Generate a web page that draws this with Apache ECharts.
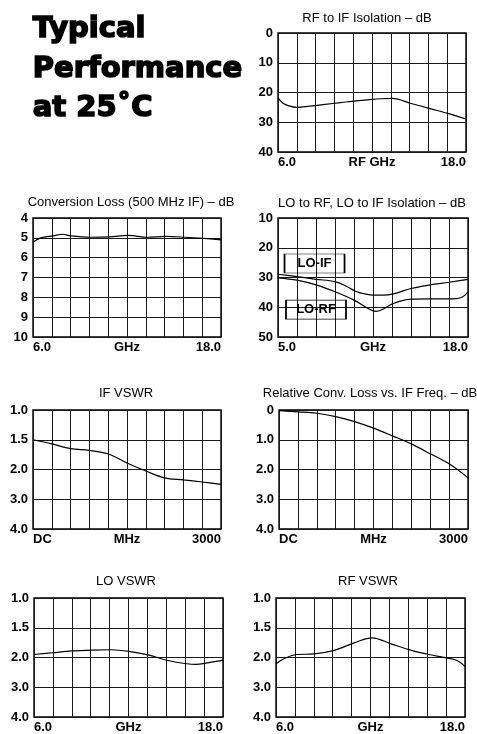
<!DOCTYPE html>
<html><head><meta charset="utf-8">
<script src="https://cdn.jsdelivr.net/npm/echarts@6/dist/echarts.min.js"></script>
<style>html,body{margin:0;padding:0;background:#fff}#c{width:477px;height:734px}</style>
</head><body><div id="c"></div>
<script>
// ---------- data ----------
// RF to IF isolation (dB) vs RF GHz
const rfIfGHz = [6.0, 6.3, 6.7, 7.2, 8.0, 9.0, 10.0, 11.0, 12.0, 12.6, 13.3, 14.5, 15.7, 16.9, 18.0];
const rfIfDb  = [21.8, 23.5, 24.5, 25.0, 24.6, 24.0, 23.4, 22.8, 22.3, 22.1, 22.0, 23.7, 25.4, 27.1, 28.9];
// Conversion loss (dB) vs GHz
const convGHz = [6.0, 6.5, 7.3, 7.9, 8.4, 9.7, 10.9, 12.1, 13.3, 14.5, 15.7, 16.9, 18.0];
const convDb  = [5.22, 5.0, 4.9, 4.82, 4.9, 4.97, 4.95, 4.88, 4.97, 4.93, 4.97, 5.03, 5.1];
// LO to IF isolation
const loIfGHz = [5.0, 6.3, 7.6, 8.9, 9.7, 10.3, 11.0, 11.6, 12.2, 12.9, 14.1, 15.4, 16.7, 18.0];
const loIfDb  = [28.9, 29.7, 30.6, 31.4, 33.0, 34.6, 35.6, 35.9, 35.9, 35.5, 33.7, 32.5, 31.6, 30.6];
// LO to RF isolation
const loRfGHz = [5.0, 6.3, 7.6, 8.9, 10.2, 11.2, 11.7, 12.2, 12.9, 14.1, 15.4, 16.7, 17.5, 18.0];
const loRfDb  = [30.1, 30.9, 32.5, 34.8, 37.6, 40.5, 41.4, 40.6, 38.7, 37.3, 37.2, 37.2, 36.8, 34.8];
// IF VSWR vs MHz
const ifMHz   = [0, 300, 600, 900, 1200, 1500, 1800, 2100, 2400, 2700, 3000];
const ifVswr  = [1.5, 1.57, 1.65, 1.68, 1.74, 1.89, 2.05, 2.28, 2.35, 2.42, 2.5];
// Relative conversion loss vs IF MHz
const relMHz  = [0, 300, 600, 900, 1200, 1500, 1800, 2100, 2400, 2700, 3000];
const relDb   = [0.02, 0.06, 0.11, 0.22, 0.39, 0.61, 0.87, 1.14, 1.47, 1.81, 2.28];
// LO VSWR vs GHz
const loVGHz  = [6.0, 7.2, 8.4, 9.7, 10.9, 12.1, 13.3, 14.5, 15.7, 16.3, 16.9, 18.0];
const loVswr  = [1.95, 1.92, 1.89, 1.875, 1.87, 1.9, 1.96, 2.1, 2.21, 2.23, 2.19, 2.09];
// RF VSWR vs GHz
const rfVGHz  = [6.0, 6.5, 7.3, 8.4, 9.7, 11.0, 12.1, 13.3, 14.6, 15.7, 16.9, 17.5, 18.0];
const rfVswr  = [2.21, 2.04, 1.95, 1.94, 1.88, 1.75, 1.67, 1.77, 1.88, 1.95, 2.02, 2.1, 2.3];

// tick labels
const vswrTicks = [1.0, 1.5, 2.0, 3.0, 4.0];
const relTicks  = ['0', '1.0', '2.0', '3.0', '4.0'];
// annotation anchors (data units) in LO isolation chart
const loNotes = [{text: 'LO-IF', ghz: 7.5, db: 25.3}, {text: 'LO-RF', ghz: 7.6, db: 40.8}];

// ---------- helpers ----------
function vswrToAxis(v) {
  for (let i = 0; i < vswrTicks.length - 1; i++) {
    if (v <= vswrTicks[i + 1]) return i + (v - vswrTicks[i]) / (vswrTicks[i + 1] - vswrTicks[i]);
  }
  return vswrTicks.length - 1;
}
const zip = (xs, ys, f) => xs.map((x, i) => [x, f ? f(ys[i]) : ys[i]]);

const FONT = '"Liberation Sans", Arial, sans-serif';

const charts = [
  {title: 'RF to IF Isolation – dB', tx: 367, ty: 18, box: [278, 33, 188, 119],
   xMin: 6, xMax: 18, xL: ['6.0', '18.0'], xName: 'RF GHz', yMin: 0, yMax: 40, yStep: 10,
   series: [zip(rfIfGHz, rfIfDb)]},
  {title: 'Conversion Loss (500 MHz IF) – dB', tx: 131, ty: 202, box: [33, 218, 188, 119],
   xMin: 6, xMax: 18, xL: ['6.0', '18.0'], xName: 'GHz', yMin: 4, yMax: 10, yStep: 1,
   series: [zip(convGHz, convDb)]},
  {title: 'LO to RF, LO to IF Isolation – dB', tx: 372, ty: 203, box: [278, 218, 190, 119],
   xMin: 5, xMax: 18, xL: ['5.0', '18.0'], xName: 'GHz', yMin: 10, yMax: 50, yStep: 10,
   series: [zip(loIfGHz, loIfDb), zip(loRfGHz, loRfDb)], notes: true},
  {title: 'IF VSWR', tx: 126, ty: 393, box: [33, 410, 188, 119],
   xMin: 0, xMax: 3000, xL: ['DC', '3000'], xName: 'MHz', yMin: 0, yMax: 4, yStep: 1,
   yFmt: v => vswrTicks[v].toFixed(1), series: [zip(ifMHz, ifVswr, vswrToAxis)]},
  {title: 'Relative Conv. Loss vs. IF Freq. – dB', tx: 370, ty: 393, box: [279, 410, 189, 119],
   xMin: 0, xMax: 3000, xL: ['DC', '3000'], xName: 'MHz', yMin: 0, yMax: 4, yStep: 1,
   yFmt: v => relTicks[v], series: [zip(relMHz, relDb)]},
  {title: 'LO VSWR', tx: 126, ty: 581, box: [34, 598, 189, 119],
   xMin: 6, xMax: 18, xL: ['6.0', '18.0'], xName: 'GHz', yMin: 0, yMax: 4, yStep: 1,
   yFmt: v => vswrTicks[v].toFixed(1), series: [zip(loVGHz, loVswr, vswrToAxis)]},
  {title: 'RF VSWR', tx: 368, ty: 581, box: [276, 598, 189, 119],
   xMin: 6, xMax: 18, xL: ['6.0', '18.0'], xName: 'GHz', yMin: 0, yMax: 4, yStep: 1,
   yFmt: v => vswrTicks[v].toFixed(1), series: [zip(rfVGHz, rfVswr, vswrToAxis)]}
];

const grid = [], xAxis = [], yAxis = [], series = [];
const graphic = [
  {type: 'text', left: 32, top: 10, style: {text: 'Typical\nPerformance\nat 25˚C', font: 'bold 29px "DejaVu Sans"',
    lineHeight: 39.5, fill: '#000', stroke: '#000', lineWidth: 1.6}}
];
const labelStyle = {color: '#000', fontWeight: 'bold', fontSize: 13, fontFamily: FONT};

charts.forEach((c, k) => {
  grid.push({left: c.box[0], top: c.box[1], width: c.box[2], height: c.box[3], show: true,
    borderColor: '#000', borderWidth: 1.4, containLabel: false, outerBoundsMode: 'none'});
  xAxis.push({type: 'value', gridIndex: k, min: c.xMin, max: c.xMax, position: 'bottom',
    axisLine: {show: false}, axisTick: {show: false}, splitLine: {show: false},
    axisLabel: Object.assign({showMinLabel: true, showMaxLabel: true, alignMinLabel: 'left', alignMaxLabel: 'right',
      margin: 4, formatter: v => v === c.xMin ? c.xL[0] : (v === c.xMax ? c.xL[1] : '')}, labelStyle),
    name: c.xName, nameLocation: 'middle', nameGap: 4, nameMoveOverlap: false,
    nameTextStyle: Object.assign({verticalAlign: 'top'}, labelStyle)});
  xAxis.push({type: 'value', gridIndex: k, min: 0, max: 10, interval: 1, position: 'top',
    axisLine: {show: false}, axisTick: {show: false}, axisLabel: {show: false},
    splitLine: {show: true, lineStyle: {color: '#1a1a1a', width: 1}}});
  yAxis.push({type: 'value', gridIndex: k, min: c.yMin, max: c.yMax, interval: c.yStep, inverse: true,
    axisLine: {show: false}, axisTick: {show: false},
    axisLabel: Object.assign({margin: 5, formatter: c.yFmt || (v => String(v))}, labelStyle),
    splitLine: {show: true, lineStyle: {color: '#1a1a1a', width: 1}}});
  c.series.forEach((d, j) => {
    const s = {type: 'line', xAxisIndex: 2 * k, yAxisIndex: k, data: d, symbol: 'none', smooth: 0.35,
      silent: true, z: 5, lineStyle: {color: '#000', width: 1.2}};
    if (c.notes && j === 0) {
      s.markPoint = {silent: true, symbol: 'rect', symbolSize: [60, 19],
        itemStyle: {color: 'rgba(0,0,0,0)', borderColor: '#000', borderWidth: 1},
        label: Object.assign({show: true, position: 'inside', formatter: p => p.name}, labelStyle),
        data: loNotes.map(n => ({name: n.text, coord: [n.ghz, n.db]}))};
    }
    series.push(s);
  });
  graphic.push({type: 'text', x: c.tx, y: c.ty, style: {text: c.title, font: '13px ' + FONT, fill: '#000',
    align: 'center', verticalAlign: 'middle'}});
});

const chart = echarts.init(document.getElementById('c'), null, {renderer: 'canvas'});
chart.setOption({animation: false, backgroundColor: '#fff', grid, xAxis, yAxis, series, graphic});
</script></body></html>
